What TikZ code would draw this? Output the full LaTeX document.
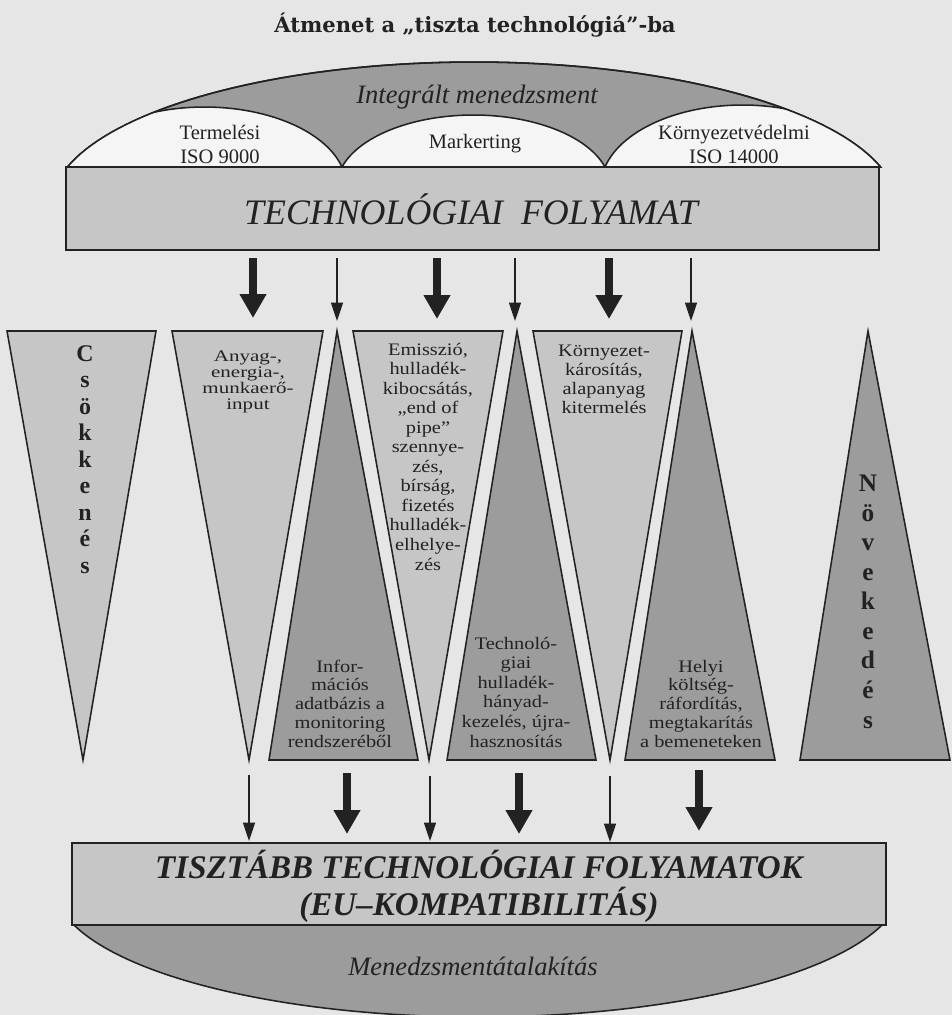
\documentclass[tikz,border=0pt]{standalone}
\usepackage{fontspec}
\setmainfont{Liberation Serif}
\newfontfamily\trifont{Liberation Serif}[FakeStretch=1.16]
\newfontfamily\trifontwide{Liberation Serif}[FakeStretch=1.3]
\newfontfamily\titlefont{DejaVu Serif}
\usepackage{tikz}
\usetikzlibrary{positioning, arrows.meta, calc}

\definecolor{pagegray}{HTML}{E6E6E6}
\definecolor{lightfill}{HTML}{C6C6C6}
\definecolor{darkfill}{HTML}{9C9C9C}
\definecolor{bumpwhite}{HTML}{F5F5F5}
\definecolor{inkgray}{HTML}{222222}

\tikzset{
    outline/.style={draw=inkgray, line width=1.1pt, line join=miter},
    lightpart/.style={outline, fill=lightfill},
    darkpart/.style={outline, fill=darkfill},
    fatarrow/.style={draw=inkgray, line width=5.7pt, -{Triangle[length=17pt, width=18pt]}},
    slimarrow/.style={draw=inkgray, line width=1pt, -{Triangle[length=13pt, width=8.5pt]}},
    lbl/.style={inner sep=0pt, anchor=base, align=center, text=inkgray},
}

\begin{document}
\begin{tikzpicture}[x=0.025cm, y=-0.025cm]
    \def\tritop{331}
    \def\tribot{760}

    % page and frame
    \fill[pagegray] (0,0) rectangle (952,1015);
    \useasboundingbox (0,0) rectangle (952,1015);

    % title
    \node[lbl, font=\titlefont\bfseries\fontsize{15}{18}\selectfont] (title) at (475,32)
        {Átmenet a „tiszta technológiá”-ba};

    % outer dome
    \draw[darkpart] plot[domain=16:164, samples=80, variable=\t]
        ({474+423*cos(\t)}, {207-145*sin(\t)}) -- cycle;

    % white bumps inside the dome
    \begin{scope}
        \clip plot[domain=16:164, samples=80, variable=\t]
            ({474+423*cos(\t)}, {207-145*sin(\t)}) -- cycle;
        \foreach \cx/\a/\b/\s in {204.5/142/80/14.48, 473.5/136.9/72/16.13, 742.5/141.8/82/14.12}
        {
            \draw[outline, fill=bumpwhite] plot[domain=\s:180-\s, samples=60, variable=\t]
                ({\cx+\a*cos(\t)}, {187-\b*sin(\t)}) -- cycle;
        }
    \end{scope}
    \draw[outline] plot[domain=16:164, samples=80, variable=\t]
        ({474+423*cos(\t)}, {207-145*sin(\t)});

    % labels in the dome (base = last line)
    \node[lbl, font=\itshape\fontsize{18.9}{22}\selectfont] (integr) at (477,103) {Integrált menedzsment};
    \node[lbl, font=\fontsize{14.6}{16.4}\selectfont] (termel) at (220,163) {Termelési\\ISO 9000};
    \node[lbl, font=\fontsize{14.6}{16.4}\selectfont] (market) at (475,148) {Markerting};
    \node[lbl, font=\fontsize{14.6}{16.4}\selectfont] (kornyv) at (734,163) {Környezetvédelmi\\ISO 14000};

    % technology box
    \draw[lightpart] (66,167) rectangle (879,250);
    \node[lbl, font=\itshape\fontsize{25.5}{30}\selectfont] (tech) at (471,224) {TECHNOLÓGIAI\ \ FOLYAMAT};

    % decreasing triangles
    \foreach \xa/\xb/\xc in {7/156/83, 172/323/249, 353/503/429, 533/682/610}
    {
        \draw[lightpart] (\xa,\tritop) -- (\xb,\tritop) -- (\xc,\tribot) -- cycle;
    }

    % increasing triangles
    \foreach \xa/\xb/\xc in {337/269/418, 517/447/596, 692/625/775, 868/800/950}
    {
        \draw[darkpart] (\xa,\tritop) -- (\xc,\tribot) -- (\xb,\tribot) -- cycle;
    }

    % triangle labels
    \node[lbl, font=\bfseries\fontsize{17}{18.8}\selectfont] (csokk) at (85,573)
        {C\\s\\ö\\k\\k\\e\\n\\é\\s};
    \node[lbl, font=\bfseries\fontsize{18}{21}\selectfont] (novek) at (868,728)
        {N\\ö\\v\\e\\k\\e\\d\\é\\s};
    \node[lbl, font=\trifontwide\fontsize{11.5}{11.2}\selectfont] (anyag) at (248,409)
        {Anyag-,\\energia-,\\munkaerő-\\input};
    \node[lbl, font=\trifont\fontsize{12.5}{13.9}\selectfont] (emissz) at (428,570)
        {Emisszió,\\hulladék-\\kibocsátás,\\„end of\\pipe”\\szennye-\\zés,\\bírság,\\fizetés\\hulladék-\\elhelye-\\zés};
    \node[lbl, font=\trifont\fontsize{12.5}{13.3}\selectfont] (karos) at (604,413)
        {Környezet-\\károsítás,\\alapanyag\\kitermelés};
    \node[lbl, font=\trifont\fontsize{12.5}{13.3}\selectfont] (infor) at (340,747)
        {Infor-\\mációs\\adatbázis a\\monitoring\\rendszeréből};
    \node[lbl, font=\trifont\fontsize{12.5}{13.9}\selectfont] (hullad) at (516,747)
        {Technoló-\\giai\\hulladék-\\hányad-\\kezelés, újra-\\hasznosítás};
    \node[lbl, font=\trifont\fontsize{12.5}{13.3}\selectfont] (helyi) at (701,747)
        {Helyi\\költség-\\ráfordítás,\\megtakarítás\\a bemeneteken};

    % arrows
    \foreach \n/\x/\ya/\yb/\st in {
        ta/253/258/318/fatarrow,
        tb/437/258/319/fatarrow,
        tc/609/258/319/fatarrow,
        td/337/258/321/slimarrow,
        te/515/258/321/slimarrow,
        tf/691/258/321/slimarrow,
        ba/249/775/841/slimarrow,
        bb/430/776/841/slimarrow,
        bc/610/776/842/slimarrow,
        bd/347/773/834/fatarrow,
        be/519/773/834/fatarrow,
        bf/699/770/831/fatarrow}
    {
        \coordinate (\n-s) at (\x,\ya);
        \coordinate (\n-e) at (\x,\yb);
        \draw[\st] (\n-s) -- (\n-e);
    }

    % bowl below
    \draw[darkpart] plot[domain=17.6:162.4, samples=80, variable=\t]
        ({478+424*cos(\t)}, {885+132*sin(\t)}) -- cycle;
    \node[lbl, font=\itshape\fontsize{18.9}{22}\selectfont] (menatal) at (473,975) {Menedzsmentátalakítás};

    % cleaner technology box
    \draw[lightpart] (72,843) rectangle (886,925);
    \node[lbl, font=\bfseries\itshape\fontsize{23.5}{26.3}\selectfont] (tiszta) at (479,915)
        {TISZTÁBB TECHNOLÓGIAI FOLYAMATOK\\(EU–KOMPATIBILITÁS)};
\end{tikzpicture}
\end{document}
